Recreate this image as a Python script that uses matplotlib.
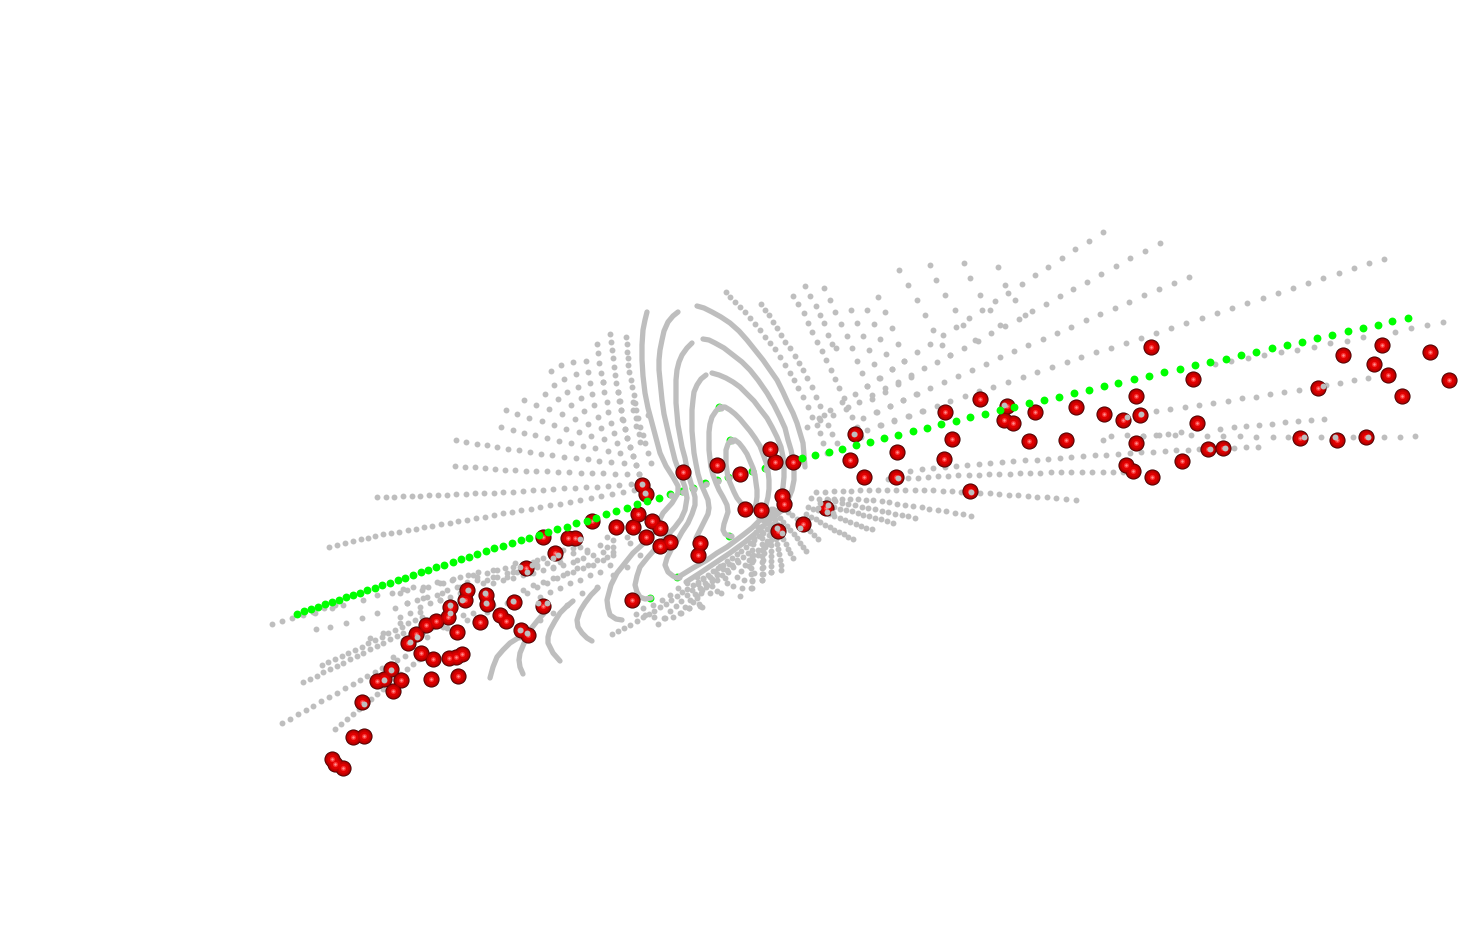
import matplotlib
matplotlib.use("Agg")
import matplotlib.pyplot as plt

# everything is read off the picture, in picture pixels
# --- red points
red_x = [1151,1193,1343,1382,1374,1388,1430,1449,1402,1318,1136,1140,1123,1104,1076,1035,1007,1004,1013,980,945,952,944,897,896,864,850,855,793,
         1197,1136,1126,1133,1152,1182,1208,1223,1066,1029,970,1300,1337,1366,
         770,775,717,683,740,782,784,745,761,803,826,778,642,646,638,652,660,616,633,646,660,670,700,698,632,
         592,543,568,575,555,526,467,465,486,487,514,543,450,448,480,500,506,521,528,457,436,426,416,408,
         421,433,449,456,462,431,458,391,401,377,384,393,362,353,364,332,335,343]
red_y = [347,379,355,345,364,375,352,380,396,388,396,415,420,414,407,412,406,420,423,399,412,439,459,452,477,477,460,434,462,
         423,443,465,471,477,461,449,448,440,441,491,438,440,437,
         449,462,465,472,474,496,504,509,510,524,508,531,485,494,514,521,528,527,527,537,546,542,543,555,600,
         521,537,538,538,553,568,590,600,595,604,602,606,607,617,622,615,621,630,635,632,621,625,634,643,
         653,659,658,657,654,679,676,669,680,681,679,691,702,737,736,759,764,768]

# --- green points
green_line = [(1408,318),(1392,321),(1378,325),(1363,328),(1348,331),(1332,335),(1317,338),(1302,342),(1287,345),(1272,348),(1256,352),(1241,355),
              (1226,359),(1210,362),(1195,365),(1180,369),(1164,372),(1149,376),(1134,379),(1118,383),(1104,386),(1089,390),(1074,393),(1059,397),
              (1044,400),(1029,403),(1014,407),(1000,410),(985,414),(970,417),(956,421),(941,424),(927,428),(913,431),(898,435),(884,438),(870,442),
              (856,445),(842,449),(829,452),(815,455),(802,458),
              (647,501),(637,504),(627,508),(616,511),(606,514),(596,518),(587,521),(576,523),(567,527),(557,529),(548,532),(539,535),(529,538),
              (521,540),(512,543),(503,546),(494,548),(486,551),(477,554),(469,557),(461,559),(453,562),(444,565),(436,567),(428,570),(421,572),
              (413,575),(405,578),(398,580),(390,583),(382,585),(375,588),(367,590),(360,593),(353,595),(346,597),(339,600),(332,602),(325,604),
              (318,607),(311,609),(304,611),(297,614)]
green_hidden = [(789,462),(777,465),(765,468),(752,471),(740,474),(728,477),(717,480),(705,483),(693,488),(682,491),(670,494),(659,498),
                (650,598),(677,577),(729,536),(719,407),(730,440)]
# gray dots lying on the green ones in the hidden stretch
green_cover = [(778,466),(766,469),(753,472),(741,475),(729,478),(718,481),(706,484),(694,489),(683,492),(671,495),(721,408),(732,441),(731,536),(679,577)]

# --- gray surface, upper right
ray_1 = [(1103,232),(1089,241),(1075,249),(1062,258),(1048,267),(1035,275),(1022,284),(1008,293),(995,301),(982,310),(969,318),(956,327),(943,335),(930,344),(917,352),(904,361),(892,369),(879,378),(867,386),(855,394),(842,402),(830,410),(819,418),(807,427)]
ray_2 = [(1160,243),(1145,251),(1130,258),(1116,266),(1101,274),(1087,282),(1073,289),(1060,296),(1046,304),(1032,311),(1019,319),(1005,326),(991,333),(978,341),(964,348),(950,355),(937,362),(924,368),(911,375),(898,382),(885,388),(872,395),(859,402),(846,409),(833,415),(820,420)]
ray_3 = [(1189,277),(1174,283),(1159,289),(1144,295),(1129,302),(1115,308),(1100,314),(1086,320),(1071,327),(1057,333),(1043,339),(1028,345),(1014,351),(1000,357),(986,364),(972,370),(958,376),(944,382),(930,388),(917,394),(903,400),(890,406),(877,412),(863,418)]
ray_4 = [(1384,259),(1369,263),(1354,268),(1339,273),(1323,278),(1308,283),(1293,288),(1278,293),(1263,298),(1247,303),(1232,308),(1217,313),(1202,318),(1186,323),(1171,328),(1156,333),(1141,338),(1126,343),(1111,348),(1096,352),(1081,357),(1067,362),(1052,367),(1037,372),(1023,377),(1008,382),(993,387),(979,391),(965,396),(950,401),(937,406),(923,411),(909,416),(894,421),(881,425),(867,430)]
ray_5 = [(1443,322),(1427,325),(1411,328),(1395,332),(1363,337),(1347,341),(1330,343),(1314,347),(1297,350),(1281,352),(1264,355),(1248,358),(1231,361),(1215,364)]
ray_6 = [(1368,378),(1354,380),(1340,383),(1326,385),(1313,387),(1299,390),(1284,392),(1270,394),(1256,397),(1242,398),(1228,401),(1213,403),(1199,405),(1185,407),(1170,409),(1156,411),(1142,413),(1127,417)]
ray_7 = [(1324,419),(1311,420),(1298,421),(1285,422),(1272,424),(1259,425),(1246,426),(1234,427),(1220,429),(1181,432),(1168,434),(1156,435),(1143,436)]
ray_8 = [(1415,436),(1400,437),(1384,437),(1368,437),(1353,437),(1337,437),(1321,437),(1305,437),(1288,437),(1273,437),(1256,437),(1240,436),(1223,436),(1207,436),(1191,435),(1175,435),(1159,435),(1143,436),(1127,435),(1111,436),(1103,440)]
ray_9 = [(1258,447),(1246,447),(1234,448),(1199,449),(1188,450),(1176,450),(1165,451),(1153,452),(1141,452),(1130,453),(1118,454),(1106,455),(1095,455),(1083,456),(1071,457),(1060,458),(1048,459),(1037,460),(1025,460),(1013,461),(1002,462),(990,463),(979,464),(967,465),(956,466),(945,467),(933,468),(922,469),(910,471)]
ray_10 = [(1123,472),(1113,472),(1103,472),(1092,472),(1082,472),(1071,472),(1061,472),(1051,472),(1040,473),(1030,473),(1020,473),(1010,474),(999,474),(989,474),(979,475),(969,475),(958,475),(948,476),(938,476),(928,477),(918,478),(908,478),(898,479),(888,479)]
ray_11 = [(1076,500),(1066,499),(1056,498),(1047,497),(1037,497),(1028,496),(1018,495),(1009,495),(999,494),(990,493),(980,493),(971,492),(961,492),(952,491),(943,491),(933,490),(924,490),(915,490),(905,490),(896,490),(887,490),(878,490),(869,490),(860,490),(851,491),(843,491),(834,491),(825,492),(816,492)]
ray_12 = [(971,516),(963,514),(955,513),(946,511),(938,510),(929,509),(922,507),(913,506),(905,505),(897,504),(889,502),(882,501),(873,500),(866,500),(858,499),(850,499),(842,499),(834,499),(827,499),(819,499),(811,498)]
ray_13 = [(915,518),(908,516),(902,515),(895,514),(888,512),(882,511),(875,509),(868,508),(862,507),(855,505),(848,504),(842,503),(835,501),(828,500)]
ray_14 = [(893,523),(887,521),(881,519),(875,518),(869,516),(863,515),(858,513),(852,511),(846,510),(840,509),(834,507)]
ray_15 = [(872,529),(866,528),(861,526),(856,524),(850,522),(845,520),(840,518),(834,516),(829,514),(824,512),(818,510),(813,509),(808,507)]
ray_16 = [(853,539),(848,537),(844,534),(839,532),(834,530),(830,527),(825,525),(820,522),(816,519),(811,517),(806,514)]
ray_17 = [(818,539),(814,535),(810,531),(806,527),(801,523),(797,519),(792,515),(788,512),(783,508)]
ray_18 = [(806,551),(803,547),(800,543),(797,538),(794,534),(790,530),(787,526),(783,522),(780,518),(777,513),(773,509)]
ray_19 = [(793,558),(790,553),(788,549),(786,544),(783,539),(781,534),(779,529),(777,524),(775,519),(773,514),(771,509)]
ray_20 = [(781,570),(781,565),(780,560),(779,554),(778,549),(777,544),(776,539),(775,534),(774,529),(773,524),(771,518),(770,513)]
ray_21 = [(771,572),(771,566),(771,561),(771,556),(771,551),(771,545),(771,540),(770,535),(770,530),(769,524),(768,519)]
ray_22 = [(762,580),(762,574),(762,568),(762,562),(762,556),(762,550),(762,544),(762,538),(762,532),(762,526),(763,520)]
ray_23 = [(752,588),(752,581),(751,574),(751,568),(752,562),(752,556),(752,550),(753,544),(754,538),(756,532),(757,526)]

col_1 = [(726,292),(730,297),(735,302),(740,307),(745,312),(750,318),(755,324),(760,330),(765,337),(770,343),(775,349),(780,357),(785,365),(790,373),(794,380),(798,388),(803,397),(808,407),(812,417),(817,425),(820,433),(823,443),(827,453)]
col_2 = [(761,304),(765,310),(769,315),(773,322),(777,328),(781,335),(785,342),(790,348),(795,356),(799,363),(803,370),(807,378),(812,387),(816,397),(820,406),(824,415),(828,425),(832,434),(837,443)]
col_3 = [(793,296),(798,304),(804,313),(808,323),(812,332),(817,342),(822,351),(826,360),(831,370),(835,379),(839,388),(844,398),(848,407),(852,417),(857,427),(861,437)]
col_4 = [(805,286),(810,296),(816,306),(820,315),(824,323),(828,335),(832,344),(836,348)]
col_5 = [(824,288),(830,300),(835,312),(841,324),(847,336),(852,348),(857,361),(862,373),(867,386),(872,399),(876,412),(880,425)]
col_6 = [(851,310),(857,323),(863,336),(869,350),(874,364),(880,378),(885,392),(890,406),(894,420)]
col_7 = [(867,310),(874,324),(880,339),(886,354),(892,369),(898,384),(903,400),(908,416)]
col_8 = [(878,297),(885,312),(892,328),(898,344),(904,361),(911,377),(916,394),(922,411)]
col_9 = [(899,270),(908,285),(917,300),(925,315),(933,330),(942,345),(950,355)]
col_10 = [(930,265),(936,280),(945,295),(955,310),(963,325),(975,340)]
col_11 = [(964,263),(970,278),(980,295),(990,310),(1000,325)]
col_12 = [(998,267),(1005,285),(1015,300),(1025,315)]

# --- gray surface, upper left
left_1 = [(377,497),(386,497),(394,497),(403,496),(412,496),(420,496),(429,495),(438,495),(447,495),(456,494),(466,494),(475,493),(484,493),(494,493),(503,492),(513,492),(523,491),(533,490),(543,490),(553,489),(564,488),(575,488),(586,487),(597,487),(608,486),(619,485),(631,484)]
left_2 = [(329,547),(337,545),(345,543),(353,541),(361,539),(368,538),(375,536),(383,534),(391,533),(399,532),(408,530),(416,529),(424,527),(432,526),(441,524),(450,523),(458,521),(467,520),(476,518),(485,517),(494,515),(503,513),(512,512),(521,510),(531,509),(540,507),(550,505),(560,504),(570,502),(580,500),(591,498),(601,496),(612,494),(623,492),(634,490)]
left_3 = [(455,466),(465,467),(475,467),(485,468),(495,469),(505,470),(515,470),(526,471),(536,471),(547,471),(558,472),(569,472),(581,473),(592,473),(603,473),(615,474),(627,474),(639,474)]
left_4 = [(456,440),(466,442),(477,444),(487,445),(497,447),(508,449),(519,450),(530,452),(541,454),(552,455),(564,457),(576,458),(588,459),(599,461),(611,462),(624,463),(636,465)]
left_5 = [(501,427),(513,430),(524,433),(535,435),(547,438),(559,441),(571,443),(583,446),(595,448),(608,451),(620,453),(633,456)]
left_6 = [(506,410),(517,414),(529,418),(542,421),(554,425),(566,429),(579,432),(591,436),(604,439),(617,443),(630,447)]
left_7 = [(524,400),(536,405),(549,409),(562,414),(575,419),(588,424),(601,428),(614,433),(627,438),(640,442)]
left_8 = [(545,394),(558,399),(571,405),(584,411),(598,417),(611,423),(625,429),(639,434)]
left_9 = [(551,371),(554,385),(567,392),(581,398),(594,405),(608,412),(622,419),(636,426)]
left_10 = [(561,365),(564,379),(578,387),(592,394),(607,402),(621,410),(636,418)]
left_11 = [(573,362),(576,374),(590,383),(604,392),(619,401),(633,410)]
left_12 = [(586,361),(588,372),(603,382),(618,392),(633,402),(648,415)]
left_13 = [(597,344),(598,353),(599,363),(601,373),(603,382)]
left_14 = [(610,334),(611,342),(612,350),(613,358),(614,367),(615,375),(616,383),(618,392),(620,401),(621,410),(623,420),(625,429),(627,438),(630,447),(633,456),(636,465),(639,474)]
left_15 = [(626,337),(627,344),(627,352),(628,358),(628,365),(629,372),(631,380),(632,387),(634,395),(635,403),(636,410),(638,418),(640,427),(643,435),(645,443),(648,453),(651,463)]

# --- gray surface, lower left
low_1 = [(282,723),(290,719),(298,714),(306,710),(313,706),(321,701),(329,697),(337,693),(345,688),(353,684),(360,680),(367,676),(375,672),(382,668),(390,664),(397,660),(405,656)]
low_2 = [(335,729),(341,724),(347,719),(353,714),(359,709),(364,704),(371,699),(377,694),(383,689),(388,684),(395,679),(400,674),(407,669),(413,664),(419,659),(425,654)]
low_3 = [(303,682),(310,679),(317,676),(323,672),(330,669),(337,666),(343,663),(350,659),(357,656),(363,653),(370,649),(377,646),(383,643),(390,639),(397,636),(403,633)]
low_4 = [(322,665),(328,662),(335,659),(342,656),(348,653),(355,650),(362,647),(368,643),(375,640),(382,637),(388,633),(395,630),(402,627),(408,623),(415,620),(422,617)]
low_5 = [(272,624),(282,621),(292,618),(303,615),(313,612),(324,608),(335,605)]
band_1 = [(315,613),(332,608),(343,605),(363,600),(377,595),(392,593),(403,589),(423,587),(440,583),(453,579),(473,575),(493,570),(513,567),(537,560),(560,552),(580,547),(607,537)]
band_2 = [(316,629),(330,627),(346,623),(362,618),(377,613),(395,608),(407,603),(423,598),(442,593),(460,587),(477,580),(493,577),(513,572),(537,567),(560,562),(587,552),(613,540)]
band_3 = [(370,638),(383,633),(400,623),(420,612),(440,600),(460,593),(483,583),(507,577),(530,573),(553,567),(577,560),(607,547),(627,537)]
band_4 = [(393,657),(407,647),(427,637),(447,628),(467,620),(487,612),(507,603),(527,593),(547,583),(567,573),(588,565),(607,557)]
band_5 = [(460,628),(473,613),(493,605),(513,597),(537,587),(557,578),(577,568),(597,560),(613,552),(630,543)]
band_6 = [(527,630),(540,620),(553,613),(567,605),(582,593),(597,587),(613,575),(627,567),(640,555)]
band_7 = [(400,593),(407,590),(413,587),(422,590),(428,587),(437,582),(443,583),(452,580),(460,577),(468,575),(478,572),(487,573),(497,570),(505,568),(515,563),(523,565),(533,562),(543,558),(553,555),(563,550),(573,548)]
band_8 = [(407,603),(417,600),(427,597),(437,595),(447,590),(457,587),(467,582),(477,577),(487,580),(497,577),(507,573),(517,572),(527,568),(537,565),(547,563),(560,557),(573,553),(587,550),(600,545)]
band_9 = [(400,617),(410,613),(420,607),(430,603),(440,600),(450,597)]
band_10 = [(493,583),(503,580),(513,578),(523,575),(533,573),(543,570),(553,568),(563,565),(573,562),(583,558),(593,555),(603,552),(613,547)]
band_11 = [(523,590),(533,585),(543,582),(553,578),(563,575),(573,572),(583,568),(593,565),(603,560),(613,555)]
band_12 = [(540,597),(550,592),(560,588),(570,583),(580,580),(590,575),(600,572),(610,565)]
band_13 = [(403,640),(413,633),(423,632),(433,627),(443,627),(453,618),(463,615)]

# --- gray surface, fan under the loops
fan_1 = [(612,634),(618,631),(624,628),(630,625),(637,621),(643,617),(649,614),(654,611),(660,607),(666,604),(671,600),(677,596),(682,592),(687,589),(693,585),(698,582),(703,578),(708,575),(713,571),(718,568),(723,565),(727,561),(732,558),(737,554),(741,551),(746,547),(750,543),(754,540),(759,536),(763,533),(767,529),(771,526),(775,522)]
fan_2 = [(658,624),(664,618),(670,611),(676,606),(681,601),(687,595),(692,590),(698,584),(703,579)]
fan_3 = [(680,613),(685,607),(690,600),(695,594),(700,588),(705,583),(710,577),(715,571),(720,566)]
fan_4 = [(689,608),(693,602),(697,596),(702,590),(707,585),(712,579),(717,574)]
fan_5 = [(702,607),(699,604),(697,598),(701,593),(706,587),(712,581),(717,575),(723,569),(729,564)]
fan_6 = [(721,593),(717,591),(712,586),(717,580),(722,575),(727,570),(732,565),(737,560)]
fan_7 = [(740,596),(733,586),(727,583),(725,578),(728,572),(733,567),(738,562),(743,557),(748,553)]
fan_8 = [(751,588),(742,588),(744,580),(737,577),(741,571),(745,565),(749,560),(753,555),(758,550)]
fan_9 = [(762,580),(752,580),(754,573),(749,566),(753,560),(758,555),(763,549),(767,544)]
fan_10 = [(771,572),(763,574),(763,567),(763,560),(764,553),(765,547),(767,541),(769,535),(773,530)]
fan_11 = [(636,614),(645,615),(654,617),(665,618),(673,617),(681,613),(689,608),(700,606),(710,593)]
fan_12 = [(643,608),(653,605),(662,600),(670,595),(678,588),(687,583),(697,577)]

# gray dots drawn over the red ones
front_gray = [(1141,414),(1004,405),(898,478),(854,434),(971,492),(1304,437),(1335,437),(1368,437),(1323,386),(1127,417),(1210,449),(1225,448),(642,484),(645,493),
              (520,567),(527,572),(532,565),(818,508),(827,512),(833,513),(820,503),(828,505),(777,528),(782,533),(800,528),
              (468,590),(462,600),(485,593),(486,603),(513,601),(538,603),(547,603),(450,605),(450,613),
              (520,630),(527,633),(410,642),(417,637),(391,670),(384,680),(364,704),(580,539),(553,558),(558,555)]

# thick strands, where the dots run together
thick_1 = [(731,440),(735,440),(739,443),(743,448),(747,454),(750,461),(753,468),(755,475),(756,483),(757,490),(757,497),(756,504),(754,510)]
thick_2 = [(731,440),(728,444),(726,450),(726,457),(726,464),(727,471),(728,478),(731,485),(734,492),(737,498),(741,503),(745,505)]
thick_3 = [(720,407),(725,407),(730,410),(735,414),(740,419),(745,425),(750,431),(755,438),(760,446),(763,454),(766,462),(768,471),(769,480),(769,489),(768,497),(766,505),(763,512),(759,518)]
thick_4 = [(720,407),(716,411),(712,417),(710,424),(709,432),(709,441),(709,450),(710,459),(711,467),(713,475),(716,483),(719,490),(723,497),(727,505),(728,512),(726,518),(724,524),(723,530),(725,534),(729,536)]
thick_5 = [(706,375),(701,379),(697,385),(694,392),(693,400),(692,410),(692,420),(692,431),(693,442),(694,453),(696,464),(698,474),(701,484),(705,493),(708,500),(709,508),(708,514),(705,520),(702,526),(699,532),(696,538)]
thick_6 = [(712,373),(719,375),(726,378),(733,382),(740,387),(747,394),(754,401),(760,409),(767,418),(772,427),(777,437),(781,447),(783,457),(784,467),(784,477),(783,487),(781,495)]
thick_7 = [(692,343),(687,348),(682,355),(679,362),(677,370),(676,380),(676,392),(676,403),(677,414),(678,425),(680,436),(682,447),(685,458),(687,469),(690,480),(693,490),(695,497),(695,505),(692,514),(688,523),(682,532),(677,541),(671,550),(667,558),(665,565),(668,572),(673,576),(677,578)]
thick_8 = [(703,339),(709,340),(715,343),(724,348),(733,355),(742,362),(750,370),(758,380),(767,393),(774,405),(780,417),(785,428),(788,440),(791,450),(793,460),(794,470),(794,480),(792,490),(788,500)]
thick_9 = [(678,312),(673,316),(668,322),(664,331),(662,340),(660,350),(659,360),(659,370),(660,380),(661,390),(662,400),(664,414),(667,427),(670,440),(675,460),(680,474),(685,487),(687,498),(685,510),(681,519),(675,527),(666,537),(657,547),(648,557),(640,567),(637,576),(635,585),(637,592),(640,597),(645,599),(651,598)]
thick_10 = [(697,306),(704,308),(712,312),(721,317),(730,323),(739,331),(747,340),(755,350),(763,360),(770,370),(777,380),(783,392),(788,403),(793,413),(797,423),(800,433),(803,443),(804,455),(805,467)]
thick_11 = [(647,312),(645,320),(643,330),(642,345),(642,360),(643,376),(645,393),(648,408),(652,423),(656,438),(660,453),(666,466),(673,477),(678,486),(678,493),(672,503),(663,513),(658,523),(653,533),(644,543),(633,553),(625,563),(617,573),(611,585),(607,600),(608,608),(610,615),(616,619),(622,620)]
thick_12 = [(598,588),(591,595),(585,603),(580,611),(577,620),(578,627),(582,633),(587,638),(592,641)]
thick_13 = [(573,601),(566,607),(560,613),(555,621),(550,630),(548,637),(548,643),(553,653),(560,661)]
thick_14 = [(547,610),(538,620),(530,630),(525,641),(520,653),(519,660),(520,667),(523,674)]
thick_15 = [(527,637),(518,638),(510,643),(503,650),(497,657),(493,667),(490,678)]
thick_16 = [(680,576),(693,568),(707,560),(717,553),(727,547),(735,541),(743,535),(752,528),(760,520),(770,515),(778,510),(790,503)]
thick_17 = [(686,582),(700,573),(715,563),(730,553),(745,542),(757,532),(770,520),(785,508)]

dot_strands = [ray_1, ray_2, ray_3, ray_4, ray_5, ray_6, ray_7, ray_8, ray_9, ray_10, ray_11, ray_12,
               ray_13, ray_14, ray_15, ray_16, ray_17, ray_18, ray_19, ray_20, ray_21, ray_22, ray_23,
               col_1, col_2, col_3, col_4, col_5, col_6, col_7, col_8, col_9, col_10, col_11, col_12,
               left_1, left_2, left_3, left_4, left_5, left_6, left_7, left_8, left_9, left_10, left_11, left_12, left_13, left_14, left_15,
               low_1, low_2, low_3, low_4, low_5, band_1, band_2, band_3, band_4, band_5, band_6,
               band_7, band_8, band_9, band_10, band_11, band_12, band_13,
               fan_1, fan_2, fan_3, fan_4, fan_5, fan_6, fan_7, fan_8, fan_9, fan_10, fan_11, fan_12]
thick_strands = [thick_1, thick_2, thick_3, thick_4, thick_5, thick_6, thick_7, thick_8, thick_9, thick_10,
                 thick_11, thick_12, thick_13, thick_14, thick_15, thick_16, thick_17]

GRAY = "#bebebe"

fig = plt.figure(figsize=(14.81, 9.48), dpi=100)
ax = fig.add_axes([0, 0, 1, 1])
ax.set_xlim(0, 1481)
ax.set_ylim(948, 0)
ax.axis("off")

# hidden green first, the surface goes over it
ax.scatter(*zip(*green_hidden), s=32, color="#00ff00", linewidths=0, zorder=1)

for strand in dot_strands:
    ax.scatter(*zip(*strand), s=18, color=GRAY, linewidths=0, zorder=2)
for strand in thick_strands:
    ax.plot(*zip(*strand), color=GRAY, lw=3.8, solid_capstyle="round", solid_joinstyle="round", zorder=2)
ax.scatter(*zip(*green_cover), s=20, color=GRAY, linewidths=0, zorder=2)

# red balls, layered to get the shading
ax.scatter(red_x, red_y, s=135, color="#3a0000", linewidths=0, zorder=4)
ax.scatter(red_x, red_y, s=115, color="#900000", linewidths=0, zorder=5)
ax.scatter(red_x, red_y, s=90, color="#c00000", linewidths=0, zorder=6)
ax.scatter(red_x, red_y, s=50, color="#e00000", linewidths=0, zorder=7)
ax.scatter(red_x, red_y, s=14, color="#f83030", linewidths=0, zorder=8)
ax.scatter(red_x, red_y, s=3, color="#ff9090", linewidths=0, zorder=9)

ax.scatter(*zip(*front_gray), s=18, color=GRAY, linewidths=0, zorder=10)

# the green line passes in front of the balls it touches
ax.scatter(*zip(*green_line), s=32, color="#00ff00", linewidths=0, zorder=11)

fig.savefig("out.png", dpi=100, facecolor="white")
